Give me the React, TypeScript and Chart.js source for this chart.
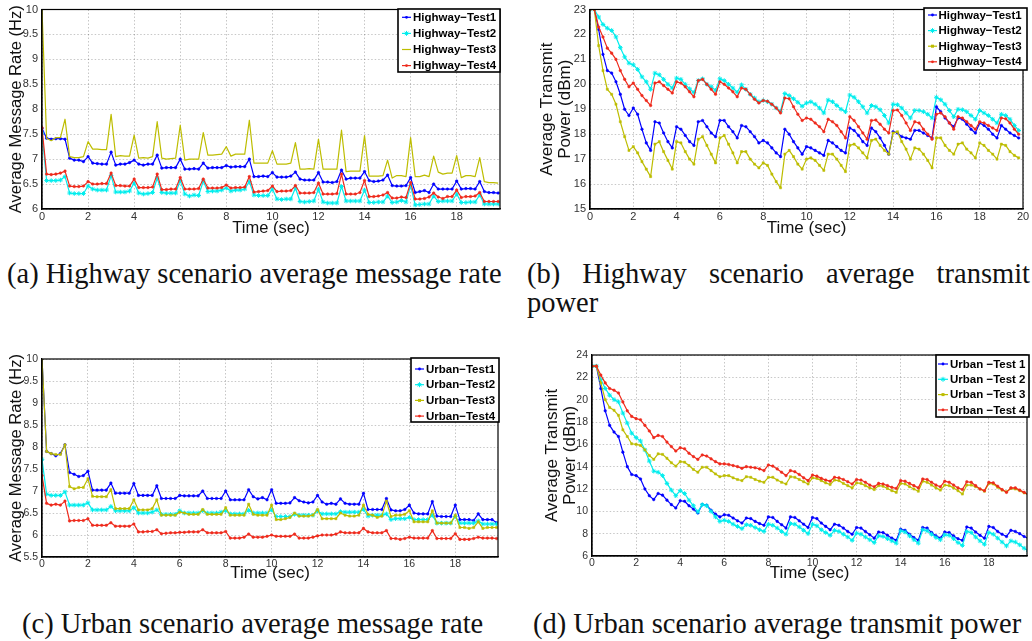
import React, { useEffect, useRef } from "react";
import { Chart, registerables } from "chart.js";

Chart.register(...registerables);

// ---------- Data ----------
const TIME = [
  0, 0.2, 0.4, 0.6, 0.8, 1, 1.2, 1.4, 1.6, 1.8, 2, 2.2, 2.4, 2.6, 2.8, 3, 3.2, 3.4, 3.6, 3.8,
  4, 4.2, 4.4, 4.6, 4.8, 5, 5.2, 5.4, 5.6, 5.8, 6, 6.2, 6.4, 6.6, 6.8, 7, 7.2, 7.4, 7.6, 7.8,
  8, 8.2, 8.4, 8.6, 8.8, 9, 9.2, 9.4, 9.6, 9.8, 10, 10.2, 10.4, 10.6, 10.8, 11, 11.2, 11.4, 11.6, 11.8,
  12, 12.2, 12.4, 12.6, 12.8, 13, 13.2, 13.4, 13.6, 13.8, 14, 14.2, 14.4, 14.6, 14.8, 15, 15.2, 15.4, 15.6, 15.8,
  16, 16.2, 16.4, 16.6, 16.8, 17, 17.2, 17.4, 17.6, 17.8, 18, 18.2, 18.4, 18.6, 18.8, 19, 19.2, 19.4, 19.6, 19.8,
];

// (a) Highway average message rate (Hz)
const HW_RATE_T1 = [
  7.62, 7.42, 7.40, 7.41, 7.41, 7.40, 7.02, 6.98, 6.98, 6.95, 7.05, 6.92, 6.91, 6.90, 6.90, 7.14, 6.88, 6.90, 6.90, 6.93,
  6.98, 6.90, 6.88, 6.90, 6.90, 7.08, 6.82, 6.83, 6.83, 6.83, 7.00, 6.80, 6.80, 6.81, 6.80, 6.92, 6.82, 6.83, 6.83, 6.83,
  6.87, 6.84, 6.85, 6.85, 6.85, 7.00, 6.65, 6.65, 6.66, 6.65, 6.73, 6.64, 6.64, 6.64, 6.66, 6.74, 6.60, 6.58, 6.58, 6.58,
  6.73, 6.54, 6.54, 6.53, 6.55, 6.78, 6.60, 6.62, 6.62, 6.62, 6.75, 6.57, 6.55, 6.56, 6.58, 6.68, 6.47, 6.46, 6.46, 6.47,
  6.63, 6.33, 6.35, 6.37, 6.33, 6.50, 6.40, 6.40, 6.40, 6.40, 6.56, 6.40, 6.41, 6.41, 6.40, 6.55, 6.35, 6.33, 6.33, 6.32,
];
const HW_RATE_T2 = [
  7.52, 6.57, 6.57, 6.57, 6.58, 6.65, 6.32, 6.31, 6.31, 6.31, 6.46, 6.40, 6.38, 6.38, 6.38, 6.67, 6.34, 6.34, 6.34, 6.36,
  6.52, 6.32, 6.30, 6.31, 6.33, 6.62, 6.33, 6.32, 6.32, 6.32, 6.57, 6.30, 6.26, 6.28, 6.27, 6.56, 6.35, 6.36, 6.36, 6.38,
  6.42, 6.36, 6.38, 6.38, 6.40, 6.55, 6.28, 6.27, 6.27, 6.27, 6.40, 6.20, 6.19, 6.20, 6.20, 6.42, 6.15, 6.14, 6.15, 6.16,
  6.40, 6.14, 6.12, 6.12, 6.12, 6.45, 6.16, 6.16, 6.16, 6.16, 6.38, 6.13, 6.13, 6.14, 6.14, 6.26, 6.13, 6.14, 6.17, 6.14,
  6.47, 6.08, 6.09, 6.10, 6.10, 6.26, 6.15, 6.16, 6.16, 6.16, 6.30, 6.13, 6.13, 6.14, 6.14, 6.28, 6.10, 6.10, 6.10, 6.10,
];
const HW_RATE_T3 = [
  10.0, 7.42, 7.37, 7.43, 7.43, 7.80, 7.05, 7.03, 7.03, 7.05, 7.35, 7.20, 7.20, 7.19, 7.19, 7.90, 7.05, 7.07, 7.06, 7.06,
  7.48, 7.02, 7.03, 7.02, 7.05, 7.75, 7.02, 7.00, 7.01, 7.02, 7.68, 6.98, 7.00, 7.00, 7.00, 7.53, 7.08, 7.08, 7.09, 7.10,
  7.25, 7.06, 7.10, 7.10, 7.10, 7.78, 6.92, 6.92, 6.92, 6.92, 7.17, 6.90, 6.90, 6.90, 6.92, 7.33, 6.80, 6.80, 6.81, 6.80,
  7.40, 6.80, 6.80, 6.80, 6.80, 7.58, 6.75, 6.76, 6.76, 6.76, 7.47, 6.66, 6.66, 6.66, 6.67, 6.98, 6.62, 6.67, 6.67, 6.65,
  7.43, 6.65, 6.65, 6.68, 6.65, 7.06, 6.74, 6.70, 6.72, 6.72, 7.07, 6.63, 6.67, 6.67, 6.65, 7.03, 6.55, 6.53, 6.53, 6.52,
];
const HW_RATE_T4 = [
  7.63, 6.70, 6.69, 6.70, 6.72, 6.76, 6.46, 6.45, 6.45, 6.46, 6.55, 6.50, 6.50, 6.51, 6.51, 6.72, 6.47, 6.47, 6.46, 6.46,
  6.60, 6.43, 6.43, 6.43, 6.44, 6.70, 6.39, 6.39, 6.40, 6.40, 6.63, 6.40, 6.40, 6.40, 6.41, 6.60, 6.42, 6.42, 6.42, 6.43,
  6.48, 6.42, 6.43, 6.43, 6.44, 6.65, 6.34, 6.35, 6.36, 6.37, 6.46, 6.35, 6.36, 6.36, 6.37, 6.47, 6.32, 6.32, 6.32, 6.33,
  6.52, 6.30, 6.30, 6.30, 6.31, 6.70, 6.30, 6.30, 6.30, 6.33, 6.57, 6.25, 6.25, 6.26, 6.28, 6.33, 6.22, 6.22, 6.24, 6.23,
  6.53, 6.20, 6.20, 6.21, 6.24, 6.32, 6.24, 6.21, 6.25, 6.25, 6.38, 6.23, 6.25, 6.25, 6.26, 6.33, 6.15, 6.15, 6.15, 6.15,
];

// (b) Highway average transmit power (dBm)
const HW_PWR_T1 = [
  23.0, 23.0, 22.2, 21.2, 20.55, 20.45, 20.1, 19.6, 19.0, 18.75, 19.05, 18.8, 18.2, 17.65, 17.35, 18.5, 18.45, 18.05, 17.7, 17.45,
  18.3, 18.2, 17.95, 17.7, 17.55, 18.5, 18.55, 18.3, 18.05, 17.9, 18.55, 18.55, 18.3, 18.1, 17.85, 18.35, 18.3, 18.1, 17.9, 17.65,
  17.75, 17.65, 17.45, 17.25, 17.1, 18.2, 18.0, 17.7, 17.45, 17.2, 17.5, 17.45, 17.35, 17.25, 17.15, 17.75, 17.65, 17.5, 17.35, 17.25,
  18.25, 18.15, 17.95, 17.7, 17.55, 18.25, 18.1, 17.85, 17.55, 17.2, 18.1, 18.05, 17.9, 17.85, 17.8, 18.15, 18.15, 18.05, 17.95, 17.85,
  19.1, 18.9, 18.65, 18.45, 18.3, 18.65, 18.6, 18.4, 18.2, 18.05, 18.45, 18.35, 18.2, 18.0, 17.85, 18.35, 18.2, 18.05, 17.95, 17.85,
];
const HW_PWR_T2 = [
  23.0, 23.0, 22.7, 22.4, 22.25, 22.16, 21.9, 21.47, 21.1, 20.85, 20.78, 20.6, 20.3, 20.1, 19.8, 20.45, 20.38, 20.2, 20.0, 19.85,
  20.25, 20.2, 20.0, 19.82, 19.67, 20.15, 20.22, 20.0, 19.9, 19.76, 20.22, 20.15, 20.0, 19.85, 19.68, 19.98, 19.8, 19.6, 19.45, 19.3,
  19.35, 19.3, 19.2, 19.05, 18.92, 19.63, 19.55, 19.42, 19.28, 19.12, 19.25, 19.3, 19.2, 19.05, 18.85, 19.37, 19.3, 19.15, 19.0, 18.9,
  19.57, 19.48, 19.3, 19.1, 18.85, 19.15, 19.1, 18.98, 18.75, 18.45, 19.2, 19.18, 19.05, 18.85, 18.65, 18.95, 18.95, 18.9, 18.8, 18.65,
  19.48, 19.38, 19.2, 18.95, 18.7, 19.0, 18.98, 18.9, 18.75, 18.6, 18.95, 18.85, 18.75, 18.6, 18.45, 18.8, 18.75, 18.6, 18.35, 18.15,
];
const HW_PWR_T3 = [
  23.0, 23.0, 21.55, 20.55, 19.8, 19.6, 19.2, 18.5, 17.9, 17.35, 17.5, 17.25, 16.9, 16.6, 16.3, 17.6, 17.7, 17.3, 16.95, 16.6,
  17.7, 17.65, 17.3, 17.0, 16.8, 17.8, 17.9, 17.55, 17.2, 16.85, 17.85, 17.95, 17.6, 17.25, 16.85, 17.3, 17.3, 17.0, 16.8, 16.65,
  16.85, 16.75, 16.4, 16.1, 15.85, 17.2, 17.35, 17.1, 16.8, 16.6, 17.0, 17.05, 16.95, 16.75, 16.55, 17.2, 17.2, 17.0, 16.75, 16.5,
  17.55, 17.6, 17.45, 17.25, 17.05, 17.75, 17.8, 17.55, 17.35, 17.2, 18.05, 18.1, 17.7, 17.4, 17.0, 17.45, 17.4, 17.2, 16.95, 16.65,
  17.85, 17.85, 17.55, 17.35, 17.2, 17.6, 17.65, 17.4, 17.25, 17.05, 17.65, 17.55, 17.35, 17.2, 17.0, 17.6, 17.55, 17.3, 17.15, 17.05,
];
const HW_PWR_T4 = [
  23.0, 23.0, 22.3, 21.9, 21.45, 21.25, 21.0, 20.55, 20.2, 19.9, 20.05, 19.8, 19.55, 19.35, 19.15, 20.05, 20.1, 19.95, 19.8, 19.65,
  20.1, 20.05, 19.9, 19.7, 19.5, 20.15, 20.2, 20.0, 19.8, 19.6, 20.1, 20.0, 19.85, 19.7, 19.5, 19.85, 19.8, 19.6, 19.4, 19.25,
  19.35, 19.32, 19.2, 19.05, 18.85, 19.45, 19.42, 19.1, 18.8, 18.55, 18.65, 18.6, 18.45, 18.3, 18.1, 18.6, 18.5, 18.35, 18.1, 17.85,
  18.7, 18.55, 18.3, 18.05, 17.8, 18.55, 18.57, 18.4, 18.2, 18.05, 18.95, 18.97, 18.75, 18.45, 18.15, 18.5, 18.45, 18.2, 18.0, 17.8,
  18.8, 18.85, 18.7, 18.45, 18.2, 18.7, 18.65, 18.5, 18.35, 18.2, 18.5, 18.45, 18.35, 18.25, 18.15, 18.65, 18.62, 18.45, 18.2, 18.0,
];

// (c) Urban average message rate (Hz)
const UR_RATE_T1 = [
  10.0, 7.9, 7.85, 7.8, 7.85, 8.05, 7.42, 7.38, 7.33, 7.35, 7.45, 7.02, 7.02, 7.02, 7.02, 7.18, 6.95, 6.95, 6.95, 6.95,
  7.17, 6.9, 6.9, 6.9, 6.9, 7.12, 6.83, 6.83, 6.83, 6.83, 6.9, 6.89, 6.89, 6.89, 6.89, 7.0, 6.83, 6.83, 6.83, 6.83,
  7.0, 6.8, 6.8, 6.8, 6.8, 7.03, 6.87, 6.82, 6.85, 6.8, 7.03, 6.72, 6.72, 6.72, 6.73, 6.85, 6.78, 6.75, 6.73, 6.75,
  6.9, 6.75, 6.7, 6.72, 6.7, 6.82, 6.72, 6.7, 6.7, 6.7, 6.95, 6.58, 6.58, 6.58, 6.58, 6.83, 6.57, 6.55, 6.55, 6.58,
  6.68, 6.5, 6.48, 6.48, 6.48, 6.76, 6.43, 6.42, 6.42, 6.42, 6.68, 6.35, 6.35, 6.35, 6.33, 6.48, 6.35, 6.35, 6.35, 6.28,
];
const UR_RATE_T2 = [
  7.72, 6.93, 6.9, 6.9, 6.9, 6.98, 6.68, 6.68, 6.68, 6.68, 6.73, 6.57, 6.57, 6.57, 6.57, 6.65, 6.55, 6.55, 6.55, 6.55,
  6.62, 6.5, 6.5, 6.5, 6.52, 6.57, 6.47, 6.47, 6.47, 6.47, 6.55, 6.5, 6.5, 6.5, 6.5, 6.55, 6.5, 6.5, 6.5, 6.52,
  6.55, 6.48, 6.48, 6.48, 6.48, 6.56, 6.5, 6.5, 6.5, 6.5, 6.57, 6.42, 6.42, 6.42, 6.42, 6.47, 6.45, 6.45, 6.45, 6.45,
  6.55, 6.48, 6.48, 6.48, 6.48, 6.53, 6.52, 6.52, 6.52, 6.52, 6.58, 6.43, 6.45, 6.45, 6.45, 6.48, 6.35, 6.37, 6.37, 6.37,
  6.4, 6.35, 6.35, 6.35, 6.35, 6.45, 6.27, 6.27, 6.27, 6.27, 6.42, 6.27, 6.27, 6.27, 6.27, 6.32, 6.25, 6.25, 6.25, 6.25,
];
const UR_RATE_T3 = [
  10.0, 7.9, 7.85, 7.83, 7.83, 8.05, 7.1, 7.05, 7.08, 7.08, 7.28, 6.88, 6.87, 6.87, 6.87, 7.03, 6.6, 6.6, 6.6, 6.6,
  6.8, 6.57, 6.57, 6.57, 6.6, 6.8, 6.45, 6.45, 6.45, 6.45, 6.52, 6.5, 6.47, 6.47, 6.47, 6.58, 6.47, 6.47, 6.47, 6.47,
  6.62, 6.45, 6.45, 6.45, 6.45, 6.7, 6.47, 6.45, 6.45, 6.45, 6.68, 6.35, 6.35, 6.37, 6.4, 6.5, 6.43, 6.43, 6.43, 6.45,
  6.58, 6.37, 6.37, 6.37, 6.37, 6.5, 6.45, 6.43, 6.43, 6.45, 6.68, 6.47, 6.45, 6.4, 6.43, 6.77, 6.42, 6.45, 6.45, 6.47,
  6.55, 6.3, 6.3, 6.3, 6.3, 6.55, 6.27, 6.27, 6.27, 6.27, 6.45, 6.17, 6.17, 6.15, 6.17, 6.3, 6.15, 6.17, 6.17, 6.17,
];
const UR_RATE_T4 = [
  7.35, 6.72, 6.68, 6.7, 6.68, 6.77, 6.32, 6.33, 6.33, 6.33, 6.37, 6.22, 6.22, 6.22, 6.22, 6.28, 6.2, 6.2, 6.2, 6.2,
  6.25, 6.07, 6.07, 6.08, 6.08, 6.12, 6.03, 6.04, 6.05, 6.05, 6.06, 6.06, 6.07, 6.07, 6.07, 6.12, 6.05, 6.05, 6.05, 6.05,
  6.08, 5.93, 5.93, 5.93, 5.95, 6.02, 5.95, 5.95, 5.95, 5.97, 6.0, 5.97, 5.97, 5.97, 5.97, 6.02, 5.93, 5.93, 5.93, 5.95,
  5.98, 6.0, 6.0, 6.0, 6.02, 6.07, 6.05, 6.05, 6.05, 6.05, 6.15, 6.07, 6.05, 6.05, 6.05, 6.1, 5.92, 5.92, 5.9, 5.92,
  5.95, 5.93, 5.93, 5.93, 5.93, 6.1, 5.92, 5.92, 5.92, 5.92, 6.03, 5.9, 5.9, 5.9, 5.92, 5.95, 5.93, 5.93, 5.93, 5.92,
];

// (d) Urban average transmit power (dBm)
const UR_PWR_T1 = [
  23, 23, 21.0, 19.0, 17.7, 17.1, 16.7, 15.3, 14.0, 13.3, 13.2, 12.9, 12.0, 11.4, 11.05, 11.6, 11.45, 11.0, 10.6, 10.3,
  10.95, 10.9, 10.5, 10.2, 9.85, 10.6, 10.55, 10.1, 9.75, 9.5, 9.7, 9.65, 9.4, 9.15, 8.95, 9.4, 9.35, 9.1, 8.9, 8.75,
  9.5, 9.45, 9.1, 8.8, 8.5, 9.5, 9.45, 9.15, 8.85, 8.55, 9.45, 9.35, 8.95, 8.65, 8.35, 8.85, 8.75, 8.5, 8.2, 7.95,
  8.55, 8.5, 8.2, 7.9, 7.6, 8.15, 8.1, 7.85, 7.6, 7.4, 8.4, 8.3, 7.95, 7.65, 7.4, 8.55, 8.5, 8.1, 7.8, 7.6,
  8.15, 8.1, 7.8, 7.55, 7.4, 8.6, 8.5, 8.15, 7.85, 7.6, 8.65, 8.55, 8.2, 7.95, 7.75, 8.3, 8.2, 8.0, 7.75, 7.55,
];
const UR_PWR_T2 = [
  23, 23, 21.8, 21.0, 20.4, 20.0, 19.8, 18.8, 17.9, 17.0, 16.6, 16.3, 15.5, 14.5, 13.6, 13.5, 13.2, 12.5, 11.9, 11.4,
  11.85, 11.6, 11.0, 10.5, 9.95, 10.6, 10.5, 10.0, 9.5, 9.1, 9.2, 9.1, 8.85, 8.65, 8.45, 8.8, 8.75, 8.55, 8.35, 8.2,
  8.85, 8.75, 8.5, 8.2, 7.95, 8.9, 8.85, 8.6, 8.3, 8.0, 8.85, 8.7, 8.35, 8.1, 7.85, 8.3, 8.2, 7.95, 7.7, 7.4,
  8.05, 7.95, 7.7, 7.45, 7.2, 7.8, 7.75, 7.55, 7.35, 7.15, 8.25, 8.15, 7.8, 7.45, 7.15, 8.35, 8.25, 7.95, 7.65, 7.45,
  7.9, 7.85, 7.55, 7.2, 6.95, 8.2, 8.1, 7.7, 7.35, 7.05, 8.1, 7.95, 7.6, 7.25, 6.9, 7.35, 7.25, 7.0, 6.7, 6.4,
];
const UR_PWR_T3 = [
  23, 23, 21.5, 20.0, 19.3, 19.05, 18.6, 17.3, 16.7, 16.05, 16.0, 15.9, 15.5, 15.0, 14.65, 15.15, 15.1, 14.75, 14.35, 14.05,
  14.45, 14.4, 14.1, 13.75, 13.5, 13.95, 13.95, 13.65, 13.35, 13.1, 13.2, 13.2, 13.0, 12.85, 12.75, 13.1, 13.05, 12.85, 12.7, 12.6,
  13.05, 13.05, 12.8, 12.6, 12.45, 13.1, 13.05, 12.85, 12.65, 12.45, 13.0, 12.95, 12.75, 12.55, 12.4, 12.8, 12.75, 12.5, 12.3, 12.1,
  12.55, 12.5, 12.3, 12.1, 11.95, 12.3, 12.25, 12.05, 11.85, 11.7, 12.5, 12.45, 12.2, 12.0, 11.8, 12.7, 12.6, 12.35, 12.1, 11.9,
  12.35, 12.3, 12.1, 11.85, 11.55, 12.35, 12.35, 12.2, 12.0, 11.8, 12.5, 12.45, 12.15, 11.9, 11.75, 12.05, 12.0, 11.85, 11.65, 11.5,
];
const UR_PWR_T4 = [
  23, 23, 22.2, 21.5, 21.0, 20.85, 20.6, 19.8, 19.0, 18.5, 18.3, 18.2, 17.7, 17.2, 16.6, 16.8, 16.7, 16.2, 15.8, 15.4,
  15.7, 15.6, 15.2, 14.9, 14.65, 15.05, 14.95, 14.7, 14.45, 14.25, 14.25, 14.2, 14.1, 14.0, 13.85, 14.0, 13.95, 13.9, 13.8, 13.65,
  14.15, 14.05, 13.8, 13.5, 13.2, 13.65, 13.55, 13.3, 13.0, 12.75, 13.25, 13.15, 12.95, 12.8, 12.7, 13.05, 13.0, 12.85, 12.65, 12.45,
  12.85, 12.8, 12.6, 12.35, 12.2, 12.5, 12.45, 12.3, 12.15, 12.05, 12.75, 12.7, 12.5, 12.3, 12.1, 12.9, 12.85, 12.6, 12.35, 12.2,
  12.7, 12.6, 12.35, 12.1, 11.95, 12.65, 12.6, 12.3, 12.0, 11.85, 12.6, 12.55, 12.25, 11.95, 11.7, 12.1, 12.1, 11.9, 11.7, 11.5,
];

const HW_LABELS = ["Highway\u2212Test1", "Highway\u2212Test2", "Highway\u2212Test3", "Highway\u2212Test4"];
const UR_RATE_LABELS = ["Urban\u2212Test1", "Urban\u2212Test2", "Urban\u2212Test3", "Urban\u2212Test4"];
const UR_PWR_LABELS = ["Urban \u2212Test 1", "Urban \u2212Test 2", "Urban \u2212Test 3", "Urban \u2212Test 4"];

const CAPTION_A = "(a) Highway scenario average message rate";
const CAPTION_B_WORDS = ["(b)", "Highway", "scenario", "average", "transmit"];
const CAPTION_B_2 = "power";
const CAPTION_C = "(c) Urban scenario average message rate";
const CAPTION_D = "(d) Urban scenario average transmit power";

// ---------- Styles ----------
const COLORS = ["#0000ff", "#00eded", "#bdbd00", "#ee2a1c"];
const SANS = "'Liberation Sans', Arial, Helvetica, sans-serif";
const SERIF = "'Liberation Serif', 'Times New Roman', serif";

type Marker = "circle" | "star" | "rect" | "none";

interface PanelCfg {
  left: number; top: number; w: number; h: number;
  plot: { l: number; r: number; t: number; b: number };
  xMax: number; yMin: number; yMax: number; yStep: number;
  yTitle: string | string[]; yTitleSize: number; yTitleLH: number; yTitleCenter: number;
  xTitleSize: number; xTitleCenter: number;
  tickSize: number;
  series: number[][]; labels: string[]; markers: Marker[];
  legend: { x: number; y: number; w: number; h: number; row0: number; rowStep: number; lineX: number; lineW: number; textX: number };
}

const PANELS: PanelCfg[] = [
  {
    left: 0, top: 0, w: 512, h: 250,
    plot: { l: 42, r: 500, t: 9, b: 209 },
    xMax: 19.88, yMin: 6, yMax: 10, yStep: 0.5,
    yTitle: "Average Message Rate (Hz)", yTitleSize: 16.5, yTitleLH: 1.2, yTitleCenter: 16.5,
    xTitleSize: 16.5, xTitleCenter: 228, tickSize: 11,
    series: [HW_RATE_T1, HW_RATE_T2, HW_RATE_T3, HW_RATE_T4], labels: HW_LABELS,
    markers: ["circle", "star", "none", "circle"],
    legend: { x: 398, y: 9, w: 102, h: 63, row0: 17.3, rowStep: 16.1, lineX: 402, lineW: 9, textX: 413 },
  },
  {
    left: 520, top: 0, w: 512, h: 250,
    plot: { l: 70, r: 503, t: 6, b: 209 },
    xMax: 20, yMin: 15, yMax: 23, yStep: 1,
    yTitle: ["Average Transmit", "Power (dBm)"], yTitleSize: 17, yTitleLH: 1.08, yTitleCenter: 27.3,
    xTitleSize: 17, xTitleCenter: 228, tickSize: 11,
    series: [HW_PWR_T1, HW_PWR_T2, HW_PWR_T3, HW_PWR_T4], labels: HW_LABELS,
    markers: ["circle", "star", "rect", "circle"],
    legend: { x: 404, y: 8, w: 103, h: 62, row0: 15, rowStep: 15.6, lineX: 408, lineW: 9, textX: 418.5 },
  },
  {
    left: 0, top: 340, w: 512, h: 250,
    plot: { l: 42, r: 498, t: 19, b: 217 },
    xMax: 19.86, yMin: 5.5, yMax: 10, yStep: 0.5,
    yTitle: "Average Message Rate (Hz)", yTitleSize: 16.5, yTitleLH: 1.2, yTitleCenter: 16.7,
    xTitleSize: 17, xTitleCenter: 233, tickSize: 10.5,
    series: [UR_RATE_T1, UR_RATE_T2, UR_RATE_T3, UR_RATE_T4], labels: UR_RATE_LABELS,
    markers: ["circle", "star", "rect", "circle"],
    legend: { x: 411, y: 18, w: 88, h: 64, row0: 29, rowStep: 15.7, lineX: 415, lineW: 9, textX: 426 },
  },
  {
    left: 520, top: 340, w: 512, h: 250,
    plot: { l: 72, r: 508, t: 15, b: 216 },
    xMax: 19.73, yMin: 6, yMax: 24, yStep: 2,
    yTitle: ["Average Transmit", "Power (dBm)"], yTitleSize: 17, yTitleLH: 1.05, yTitleCenter: 32.3,
    xTitleSize: 17, xTitleCenter: 233, tickSize: 10.5,
    series: [UR_PWR_T1, UR_PWR_T2, UR_PWR_T3, UR_PWR_T4], labels: UR_PWR_LABELS,
    markers: ["circle", "star", "rect", "circle"],
    legend: { x: 416, y: 15, w: 93, h: 62, row0: 24, rowStep: 15.3, lineX: 418, lineW: 10, textX: 430 },
  },
];

function drawMarker(ctx: CanvasRenderingContext2D, m: Marker, x: number, y: number, color: string) {
  ctx.save();
  ctx.fillStyle = color;
  ctx.strokeStyle = color;
  ctx.lineWidth = 1;
  if (m === "circle") {
    ctx.beginPath();
    ctx.arc(x, y, 1.4, 0, Math.PI * 2);
    ctx.fill();
  } else if (m === "rect") {
    ctx.fillRect(x - 1.5, y - 1.5, 3, 3);
  } else if (m === "star") {
    const r = 2.5;
    ctx.beginPath();
    ctx.moveTo(x - r, y); ctx.lineTo(x + r, y);
    ctx.moveTo(x, y - r); ctx.lineTo(x, y + r);
    ctx.moveTo(x - r * 0.7, y - r * 0.7); ctx.lineTo(x + r * 0.7, y + r * 0.7);
    ctx.moveTo(x - r * 0.7, y + r * 0.7); ctx.lineTo(x + r * 0.7, y - r * 0.7);
    ctx.stroke();
  }
  ctx.restore();
}

function Panel({ cfg }: { cfg: PanelCfg }) {
  const ref = useRef<HTMLCanvasElement | null>(null);

  useEffect(() => {
    if (!ref.current) return;
    const { plot, h, w } = cfg;
    const yLH = cfg.yTitleSize * cfg.yTitleLH;
    const xLH = cfg.xTitleSize * 1.2;

    const datasets = cfg.series.map((vals, i) => {
      const m = cfg.markers[i];
      return {
        label: cfg.labels[i],
        data: vals.map((v, k) => ({ x: TIME[k], y: v })),
        borderColor: COLORS[i],
        backgroundColor: COLORS[i],
        borderWidth: 1.2,
        tension: 0,
        pointStyle: m === "star" ? "star" : m === "rect" ? "rect" : "circle",
        pointRadius: m === "none" ? 0 : m === "star" ? 2.3 : m === "rect" ? 1.5 : 1.3,
        pointBorderWidth: m === "star" ? 1 : 0.5,
        pointBackgroundColor: COLORS[i],
        pointBorderColor: COLORS[i],
        order: 4 - i,
      };
    });

    const framePlugin = {
      id: "frameLegend",
      afterDatasetsDraw(chart: any) {
        const ctx: CanvasRenderingContext2D = chart.ctx;
        const a = chart.chartArea;
        ctx.save();
        ctx.strokeStyle = "#000";
        ctx.lineWidth = 1.2;
        ctx.strokeRect(a.left, a.top, a.right - a.left, a.bottom - a.top);
        const L = cfg.legend;
        ctx.fillStyle = "#fff";
        ctx.fillRect(L.x, L.y, L.w, L.h);
        ctx.lineWidth = 1.6;
        ctx.strokeRect(L.x, L.y, L.w, L.h);
        ctx.font = `bold 11.5px ${SANS}`;
        ctx.textBaseline = "middle";
        ctx.textAlign = "left";
        cfg.labels.forEach((lab, i) => {
          const yy = L.row0 + i * L.rowStep;
          ctx.strokeStyle = COLORS[i];
          ctx.lineWidth = 1.2;
          ctx.beginPath();
          ctx.moveTo(L.lineX, yy);
          ctx.lineTo(L.lineX + L.lineW, yy);
          ctx.stroke();
          drawMarker(ctx, cfg.markers[i], L.lineX + L.lineW / 2, yy, COLORS[i]);
          ctx.fillStyle = "#000";
          ctx.fillText(lab, L.textX, yy + 0.5);
        });
        ctx.restore();
      },
    };

    const chart = new Chart(ref.current, {
      type: "line",
      data: { datasets: datasets as any },
      plugins: [framePlugin],
      options: {
        animation: false,
        responsive: false,
        maintainAspectRatio: false,
        devicePixelRatio: 1,
        layout: { padding: { left: 0, top: plot.t, right: w - plot.r, bottom: 0 } },
        plugins: { legend: { display: false }, tooltip: { enabled: false } },
        elements: { line: { borderJoinStyle: "round" } },
        scales: {
          x: {
            type: "linear",
            min: 0,
            max: cfg.xMax,
            ticks: {
              stepSize: 2,
              includeBounds: false,
              autoSkip: false,
              maxRotation: 0,
              padding: 1,
              color: "#333",
              font: { family: SANS, size: cfg.tickSize },
              callback: (v: any) => String(v),
            },
            grid: { color: "rgba(0,0,0,0.28)", lineWidth: 0.8, drawTicks: false },
            border: { display: true, color: "#000", width: 1.2, dash: [1.5, 2] },
            title: {
              display: true,
              text: "Time (sec)",
              color: "#111",
              font: { family: SANS, size: cfg.xTitleSize, lineHeight: 1.2 },
              padding: { top: 0, bottom: h - cfg.xTitleCenter - xLH / 2 },
            },
            afterFit: (s: any) => { s.height = h - plot.b; },
          },
          y: {
            type: "linear",
            min: cfg.yMin,
            max: cfg.yMax,
            ticks: {
              stepSize: cfg.yStep,
              autoSkip: false,
              padding: 4,
              color: "#333",
              font: { family: SANS, size: cfg.tickSize, lineHeight: 1 },
              callback: (v: any) => String(Math.round(Number(v) * 100) / 100),
            },
            grid: { color: "rgba(0,0,0,0.28)", lineWidth: 0.8, drawTicks: false },
            border: { display: true, color: "#000", width: 1.2, dash: [1.5, 2] },
            title: {
              display: true,
              text: cfg.yTitle,
              color: "#111",
              font: { family: SANS, size: cfg.yTitleSize, lineHeight: cfg.yTitleLH },
              padding: { top: cfg.yTitleCenter - yLH / 2, bottom: 0 },
            },
            afterFit: (s: any) => { s.width = plot.l; },
          },
        },
      } as any,
    });
    return () => chart.destroy();
  }, [cfg]);

  return (
    <canvas
      ref={ref}
      width={cfg.w}
      height={cfg.h}
      style={{ position: "absolute", left: cfg.left, top: cfg.top, width: cfg.w, height: cfg.h }}
    />
  );
}

const captionStyle: React.CSSProperties = {
  position: "absolute",
  fontFamily: SERIF,
  fontSize: 28.5,
  lineHeight: "28.5px",
  color: "#111",
  whiteSpace: "nowrap",
};

export default function App() {
  return (
    <div style={{ position: "absolute", left: 0, top: 0, width: 1032, height: 641, background: "#fff", overflow: "hidden" }}>
      {PANELS.map((p, i) => (
        <Panel key={i} cfg={p} />
      ))}
      <div style={{ ...captionStyle, left: 7, top: 260 }}>{CAPTION_A}</div>
      <div style={{ ...captionStyle, left: 527, top: 260, width: 503, display: "flex", justifyContent: "space-between" }}>
        {CAPTION_B_WORDS.map((wd, i) => (
          <span key={i}>{wd}</span>
        ))}
      </div>
      <div style={{ ...captionStyle, left: 527, top: 289 }}>{CAPTION_B_2}</div>
      <div style={{ ...captionStyle, left: 22, top: 610 }}>{CAPTION_C}</div>
      <div style={{ ...captionStyle, left: 533, top: 610 }}>{CAPTION_D}</div>
    </div>
  );
}
